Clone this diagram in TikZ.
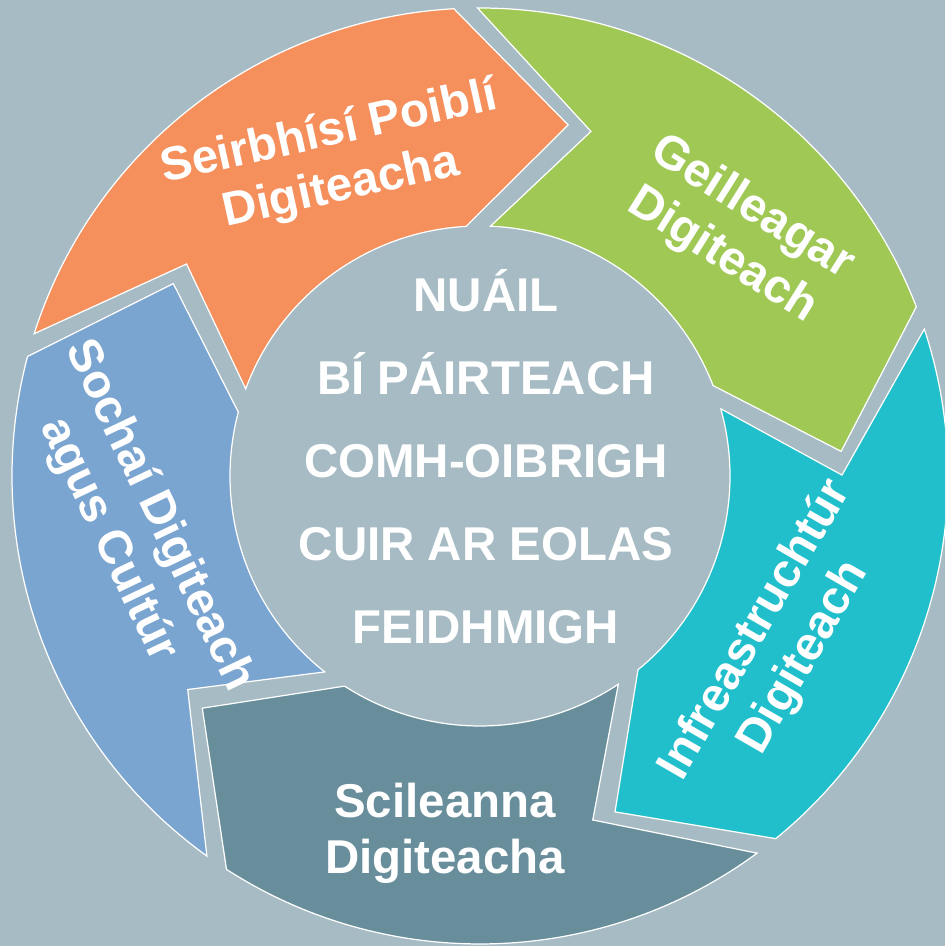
\documentclass[tikz,border=0pt]{standalone}
\usepackage{fontspec}
\setmainfont{Liberation Sans}

\definecolor{bgGray}{HTML}{A6BBC3}
\definecolor{segOrange}{HTML}{F58F5C}
\definecolor{segGreen}{HTML}{9FC855}
\definecolor{segTeal}{HTML}{21BFCB}
\definecolor{segSlate}{HTML}{688E9B}
\definecolor{segBlue}{HTML}{7BA5D1}

\begin{document}
\begin{tikzpicture}[
    seg/.style={draw=white, line width=0.7pt},
    lbl/.style={text=white, font=\fontsize{27}{32}\selectfont\bfseries, align=center, inner sep=0pt},
    mid/.style={text=white, font=\fontsize{27}{32}\selectfont\bfseries, inner sep=0pt, anchor=base},
]
    % Background
    \useasboundingbox (-9.6,-9.4) rectangle (9.3,9.52);
    \clip (-9.6,-9.4) rectangle (9.3,9.52);
    \fill[bgGray] (-9.6,-9.4) rectangle (9.3,9.52);

    % Radii of the ring
    \def\rin{5}
    \def\rout{9.36}
    \def\rtip{7.24}

    % Arrow segments: head angle / colour (tail sits behind the previous head)
    \foreach \h/\col in {93.2/segOrange, 21.2/segGreen, -50.8/segTeal, -122.8/segSlate, -194.8/segBlue} {
        \pgfmathsetmacro\p{\h+72}
        \filldraw[seg, fill=\col] ({\p-2.9}:\rout) arc[start angle=\p-2.9, end angle=\h, radius=\rout]
            -- ({\h-17.3}:\rtip) -- (\h:\rin)
            arc[start angle=\h, end angle=\p-5.6, radius=\rin]
            -- ({\p-21.05}:\rtip) -- cycle;
    }

    % Segment labels
    \node[lbl, rotate=12.5] (seirbhisi) at (-2.9, 6.3) {Seirbhísí Poiblí\\Digiteacha};
    \node[lbl, rotate=-32] (geilleagar) at (5.14, 4.88) {Geilleagar\\Digiteach};
    \node[lbl, rotate=60] (infra) at (6.0, -3.36) {Infreastruchtúr\\Digiteach};
    \node[lbl] (scileanna) at (-0.7, -7.14) {Scileanna\\Digiteacha};
    \node[lbl, rotate=-64.5] (sochai) at (-6.93, -1.04) {Sochaí Digiteach\\agus Cultúr};

    % Centre words
    \foreach \y/\word [count=\i] in {3.28/NUÁIL, 1.62/BÍ PÁIRTEACH, -0.04/COMH-OIBRIGH, -1.70/CUIR AR EOLAS, -3.36/FEIDHMIGH} {
        \node[mid] (c\i) at (0.12, \y) {\word};
    }
\end{tikzpicture}
\end{document}
